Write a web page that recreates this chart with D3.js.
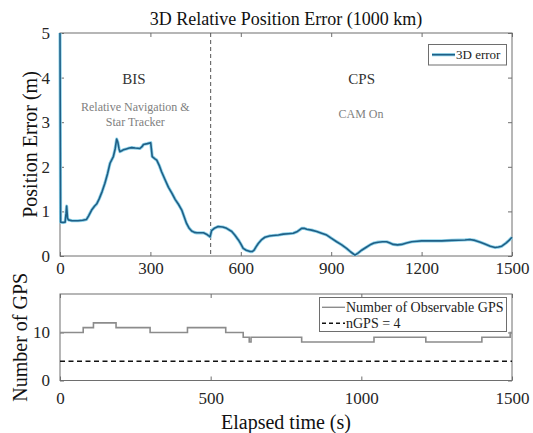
<!DOCTYPE html>
<html><head><meta charset="utf-8">
<script src="https://cdn.jsdelivr.net/npm/d3@7"></script>
<style>
body{margin:0;background:#fff;}
svg, svg text{font-family:"Liberation Serif","Times New Roman",serif;}
</style></head>
<body><svg id="c" width="533" height="433"></svg>
<script>
// ---- data ----
const errTime = [0,2,10,17,20,22,25,28,40,60,75,88,95,105,115,122,130,140,149,158,166,177,183,188,192,196,199,205,210,220,230,238,250,265,272,277,290,301,306,315,321,330,337,348,360,372,382,393,404,412,420,428,437,446,454,465,476,486,494,498,503,512,525,540,553,570,580,592,600,608,618,631,638,644,650,658,668,680,695,708,725,741,758,774,788,802,810,819,835,852,868,885,900,918,935,951,965,979,990,1001,1015,1029,1042,1056,1070,1084,1095,1106,1120,1134,1150,1167,1185,1200,1230,1267,1300,1344,1360,1377,1395,1410,1428,1444,1455,1466,1480,1490,1500];
const errValue = [5,0.76,0.75,0.76,0.95,1.12,0.85,0.81,0.79,0.79,0.80,0.82,0.90,1.03,1.12,1.17,1.28,1.45,1.63,1.85,2.08,2.23,2.40,2.62,2.55,2.40,2.34,2.36,2.38,2.40,2.42,2.43,2.42,2.41,2.45,2.50,2.52,2.54,2.23,2.18,2.15,2.02,1.89,1.72,1.54,1.40,1.27,1.16,1.03,0.88,0.73,0.63,0.56,0.53,0.52,0.52,0.52,0.49,0.45,0.43,0.57,0.62,0.66,0.65,0.62,0.55,0.47,0.36,0.27,0.17,0.13,0.10,0.10,0.13,0.20,0.28,0.36,0.42,0.45,0.46,0.47,0.49,0.50,0.51,0.55,0.62,0.62,0.60,0.58,0.55,0.51,0.47,0.40,0.32,0.25,0.17,0.09,0.02,0.07,0.13,0.19,0.25,0.29,0.31,0.32,0.32,0.29,0.26,0.25,0.26,0.29,0.32,0.33,0.34,0.34,0.34,0.35,0.36,0.37,0.35,0.31,0.27,0.22,0.19,0.20,0.22,0.29,0.35,0.42];
const gpsTime  = [0,77,111,186,299,423,550,608,628,634,802,1042,1214,1400,1494,1500];
const gpsCount = [10,11,12,11,10,11,10,9,8,9,8,9,8,9,10,10];
const nGPS = 4;
const switchTime = 500;
const topXTicks = [0,300,600,900,1200,1500];
const topYTicks = [0,1,2,3,4,5];
const botXTicks = [0,500,1000,1500];
const botYTicks = [0,10];
const titleText = "3D Relative Position Error (1000 km)";

// ---- layout ----
const svg = d3.select("#c");
const L = 60, R = 512;
const T1 = 33, B1 = 256, T2 = 294, B2 = 380.5;
const axisColor = "#6e6e6e";
const FONT = "Liberation Serif, Times New Roman, serif";

const x1 = d3.scaleLinear().domain([0,1500]).range([L,R]);
const y1 = d3.scaleLinear().domain([0,5]).range([B1,T1]);
const x2 = d3.scaleLinear().domain([0,1500]).range([L,R]);
const y2 = d3.scaleLinear().domain([0,18]).range([B2,T2]);
const fmt = d3.format("d");

function frame(x, y, top, bottom, xt, yt, xpad){
  const g = svg.append("g");
  g.append("g").attr("transform",`translate(0,${bottom})`)
    .call(d3.axisBottom(x).tickValues(xt).tickFormat(fmt).tickSize(-4).tickPadding(xpad).tickSizeOuter(0));
  g.append("g").attr("transform",`translate(${L},0)`)
    .call(d3.axisLeft(y).tickValues(yt).tickFormat(fmt).tickSize(-4).tickPadding(10).tickSizeOuter(0));
  g.append("g").attr("transform",`translate(0,${top})`)
    .call(d3.axisTop(x).tickValues(xt).tickSize(-4).tickFormat("").tickSizeOuter(0));
  g.append("g").attr("transform",`translate(${R},0)`)
    .call(d3.axisRight(y).tickValues(yt).tickSize(-4).tickFormat("").tickSizeOuter(0));
  g.selectAll("g").attr("font-family",FONT).attr("font-size",17);
  g.selectAll(".domain").remove();
  g.selectAll(".tick line").attr("stroke",axisColor);
  g.selectAll(".tick text").attr("fill","#262626");
  g.append("rect").attr("x",L).attr("y",top).attr("width",R-L).attr("height",bottom-top)
    .attr("fill","none").attr("stroke",axisColor).attr("stroke-width",1);
  return g;
}

// ---- top plot ----
svg.append("defs").append("clipPath").attr("id","clip1")
  .append("rect").attr("x",L-2).attr("y",T1).attr("width",R-L+4).attr("height",B1-T1);

frame(x1,y1,T1,B1,topXTicks,topYTicks,6);

svg.append("line").attr("x1",x1(switchTime)).attr("x2",x1(switchTime))
  .attr("y1",T1).attr("y2",B1).attr("stroke","#555").attr("stroke-width",1)
  .attr("stroke-dasharray","4,3");

const errData = errTime.map((t,i)=>[t,errValue[i]]);
const line1 = d3.line().x(d=>x1(d[0])).y(d=>y1(d[1]));
svg.append("path").datum(errData).attr("d",line1).attr("clip-path","url(#clip1)")
  .attr("fill","none").attr("stroke","#8fd3ea").attr("stroke-width",3.2).attr("stroke-linejoin","round");
svg.append("path").datum(errData).attr("d",line1).attr("clip-path","url(#clip1)")
  .attr("fill","none").attr("stroke","#1f5f86").attr("stroke-width",1.6).attr("stroke-linejoin","round");

// annotations
svg.append("text").attr("x",x1(245)).attr("y",84).attr("text-anchor","middle")
  .attr("font-size","15px").attr("fill","#333").text("BIS");
svg.append("text").attr("x",x1(250)).attr("y",111).attr("text-anchor","middle")
  .attr("font-size","12px").attr("fill","#808080").text("Relative Navigation &");
svg.append("text").attr("x",x1(250)).attr("y",126).attr("text-anchor","middle")
  .attr("font-size","12px").attr("fill","#808080").text("Star Tracker");
svg.append("text").attr("x",x1(1001)).attr("y",84).attr("text-anchor","middle")
  .attr("font-size","15px").attr("fill","#333").text("CPS");
svg.append("text").attr("x",x1(999)).attr("y",118).attr("text-anchor","middle")
  .attr("font-size","12px").attr("fill","#808080").text("CAM On");

// legend top
const lg1 = svg.append("g");
lg1.append("rect").attr("x",428.5).attr("y",44.5).attr("width",78).attr("height",20.5)
  .attr("fill","#fff").attr("stroke",axisColor);
lg1.append("line").attr("x1",432).attr("x2",455).attr("y1",54.7).attr("y2",54.7)
  .attr("stroke","#8fd3ea").attr("stroke-width",3.2);
lg1.append("line").attr("x1",432).attr("x2",455).attr("y1",54.7).attr("y2",54.7)
  .attr("stroke","#1f5f86").attr("stroke-width",1.6);
lg1.append("text").attr("x",456).attr("y",59).attr("font-size","13px").attr("fill","#222").text("3D error");

// title & labels
svg.append("text").attr("x",286).attr("y",25).attr("text-anchor","middle")
  .attr("font-size","18px").attr("fill","#111").text(titleText);
svg.append("text").attr("transform",`translate(37,${(T1+B1)/2}) rotate(-90)`)
  .attr("text-anchor","middle").attr("font-size","20px").attr("fill","#111").text("Position Error (m)");

// ---- bottom plot ----
frame(x2,y2,T2,B2,botXTicks,botYTicks,11);

const gpsData = gpsTime.map((t,i)=>[t,gpsCount[i]]);
svg.append("path").datum(gpsData)
  .attr("d",d3.line().curve(d3.curveStepAfter).x(d=>x2(d[0])).y(d=>y2(d[1])))
  .attr("fill","none").attr("stroke","#8c8c8c").attr("stroke-width",1.6);
svg.append("line").attr("x1",x2(0)).attr("x2",x2(1500)).attr("y1",y2(nGPS)).attr("y2",y2(nGPS))
  .attr("stroke","#111").attr("stroke-width",1.6).attr("stroke-dasharray","5,3.5");

const lg2 = svg.append("g");
lg2.append("rect").attr("x",319.5).attr("y",297.5).attr("width",187).attr("height",34)
  .attr("fill","#fff").attr("stroke",axisColor);
lg2.append("line").attr("x1",322).attr("x2",345).attr("y1",307.3).attr("y2",307.3)
  .attr("stroke","#8c8c8c").attr("stroke-width",1.4);
lg2.append("text").attr("x",346).attr("y",312).attr("font-size","14px").attr("fill","#222").text("Number of Observable GPS");
lg2.append("line").attr("x1",322).attr("x2",345).attr("y1",323.3).attr("y2",323.3)
  .attr("stroke","#111").attr("stroke-width",1.6).attr("stroke-dasharray","4,3");
lg2.append("text").attr("x",346).attr("y",328).attr("font-size","14px").attr("fill","#222").text("nGPS = 4");

svg.append("text").attr("transform",`translate(27,${(T2+B2)/2}) rotate(-90)`)
  .attr("text-anchor","middle").attr("font-size","20px").attr("fill","#111").text("Number of GPS");
svg.append("text").attr("x",286).attr("y",429).attr("text-anchor","middle")
  .attr("font-size","20px").attr("fill","#111").text("Elapsed time (s)");
</script></body></html>
